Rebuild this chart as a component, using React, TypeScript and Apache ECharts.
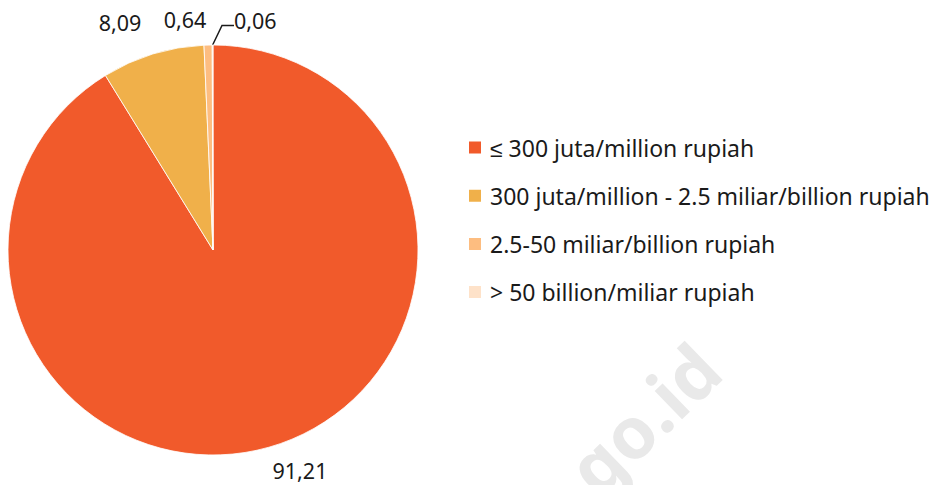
import React, { useEffect, useRef } from "react";
import * as echarts from "echarts";

const categories = [
  "≤ 300 juta/million rupiah",
  "300 juta/million - 2.5 miliar/billion rupiah",
  "2.5-50 miliar/billion rupiah",
  "> 50 billion/miliar rupiah",
];
const values = [91.21, 8.09, 0.64, 0.06];
const valueLabels = ["91,21", "8,09", "0,64", "0,06"];
const colors = ["#F15A2B", "#F0B04A", "#FDBD80", "#FEE2C9"];

export default function App() {
  const ref = useRef<HTMLDivElement>(null);
  useEffect(() => {
    const chart = echarts.init(ref.current!, null, { renderer: "svg" });
    const font = "'Noto Sans', sans-serif";
    const labelPos: Record<number, any> = {
      0: { x: 300, y: 470, align: "center", verticalAlign: "middle" },
      1: { x: 120, y: 22, align: "center", verticalAlign: "middle" },
      2: { x: 185, y: 19, align: "center", verticalAlign: "middle" },
      3: { x: 234, y: 30, align: "left", verticalAlign: "middle" },
    };
    chart.setOption({
      animation: false,
      backgroundColor: "#ffffff",
      graphic: [
        {
          type: "text",
          x: 643,
          y: 418,
          rotation: (44 * Math.PI) / 180,
          style: {
            text: "go.id",
            fill: "#e9e9e9",
            font: "bold 72px 'Noto Sans', sans-serif",
            textAlign: "center",
            textVerticalAlign: "middle",
          },
          z: -1,
        },
      ],
      legend: {
        orient: "vertical",
        left: 467,
        top: 136,
        padding: 0,
        itemWidth: 14,
        itemHeight: 14,
        itemGap: 25.2,
        icon: "rect",
        textStyle: { fontFamily: font, fontSize: 23, color: "#1a1a1a", lineHeight: 22, padding: [0, 0, 0, 3] },
        data: categories,
      },
      series: [
        {
          type: "pie",
          center: [213, 250],
          radius: [0, 205],
          startAngle: 90,
          clockwise: true,
          avoidLabelOverlap: false,
          itemStyle: { borderColor: "#ffffff", borderWidth: 0.8 },
          label: {
            show: true,
            position: "outside",
            fontFamily: font,
            fontSize: 21.5,
            color: "#1a1a1a",
            formatter: (p: any) =>
              p.dataIndex === 3
                ? "{t|" + valueLabels[p.dataIndex] + "}\n{s| }"
                : valueLabels[p.dataIndex],
            rich: {
              t: { fontFamily: font, fontSize: 21.5, color: "#1a1a1a", lineHeight: 22 },
              s: { fontSize: 2, lineHeight: 20 },
            },
          },
          labelLine: { show: false },
          labelLayout: (p: any) => ({
            ...labelPos[p.dataIndex],
            hideOverlap: false,
          }),
          data: categories.map((c, i) => ({
            name: c,
            value: values[i],
            itemStyle: { color: colors[i] },
            labelLine:
              i === 3
                ? { show: true, length: 15, length2: 12, lineStyle: { color: "#1a1a1a", width: 1.5 } }
                : { show: false },
          })),
        },
      ],
    });
    return () => chart.dispose();
  }, []);
  return (
    <div
      ref={ref}
      style={{ position: "fixed", left: 0, top: 0, width: 930, height: 485 }}
    />
  );
}
